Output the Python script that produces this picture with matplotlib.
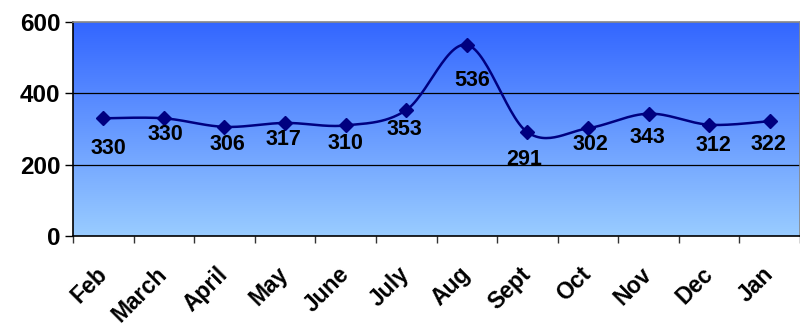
import matplotlib
matplotlib.use("Agg")
import matplotlib.pyplot as plt
import numpy as np
from matplotlib.colors import LinearSegmentedColormap

plt.rcParams["font.family"] = ["Liberation Sans", "DejaVu Sans"]
plt.rcParams["font.weight"] = "bold"

MONTHS = ["Feb", "March", "April", "May", "June", "July",
          "Aug", "Sept", "Oct", "Nov", "Dec", "Jan"]
VALUES = [330, 330, 306, 317, 310, 353, 536, 291, 302, 343, 312, 322]
Y_TICKS = [0, 200, 400, 600]

# label offsets from each marker (points), as placed in the source chart
LABEL_DX = [4, 1, 2, -1, 0, -1, 4, -2, 2, -1, 3, -1]
LABEL_DY = [-22, -12, -13, -12, -13, -14, -26, -20, -12, -17, -15, -17]


def smooth(x, y, n=30):
    # Catmull-Rom spline through the points (Excel style smoothed line)
    x = np.asarray(x, float)
    y = np.asarray(y, float)
    px = np.concatenate([[x[0]], x, [x[-1]]])
    py = np.concatenate([[y[0]], y, [y[-1]]])
    xs, ys = [], []
    t = np.linspace(0, 1, n)
    for i in range(1, len(px) - 2):
        for p, out in ((px, xs), (py, ys)):
            p0, p1, p2, p3 = p[i - 1], p[i], p[i + 1], p[i + 2]
            out.extend(0.5 * ((2 * p1) + (-p0 + p2) * t
                              + (2 * p0 - 5 * p1 + 4 * p2 - p3) * t ** 2
                              + (-p0 + 3 * p1 - 3 * p2 + p3) * t ** 3))
    return np.array(xs), np.array(ys)


fig = plt.figure(figsize=(8, 3.36), dpi=100)
ax = fig.add_axes([73 / 800, 1 - 236 / 336, 727 / 800, 214 / 336])

cmap = LinearSegmentedColormap.from_list("bg", ["#99CCFF", "#3366FF"])
grad = np.linspace(0, 1, 256).reshape(-1, 1)
ax.imshow(grad, cmap=cmap, origin="lower", aspect="auto",
          extent=[0, 1, 0, 1], transform=ax.transAxes, zorder=0)

xpos = np.arange(len(MONTHS))
for v in Y_TICKS[1:-1]:
    ax.axhline(v, color="black", lw=0.9, zorder=1)

sx, sy = smooth(xpos, VALUES)
ax.plot(sx, sy, color="#000080", lw=1.8, zorder=3)
ax.plot(xpos, VALUES, ls="none", marker="D", ms=7.5, color="#000080", zorder=4)

for i, v in enumerate(VALUES):
    ax.annotate(str(v), (xpos[i], v), xytext=(LABEL_DX[i], LABEL_DY[i]),
                textcoords="offset points", ha="center", va="center",
                fontsize=15.5, fontweight="bold", color="black", zorder=5)

ax.set_xlim(-0.5, len(MONTHS) - 0.5)
ax.set_ylim(0, 600)
ax.set_yticks(Y_TICKS)
ax.set_yticklabels([str(t) for t in Y_TICKS], fontsize=17.5, fontweight="bold")
ax.tick_params(axis="y", length=6, width=1, pad=3, color="black")

ax.set_xticks(np.arange(len(MONTHS) + 1) - 0.5)
ax.set_xticklabels([])
ax.tick_params(axis="x", which="major", length=5, width=1, color="#333333")
ax.set_xticks(xpos, minor=True)
ax.set_xticklabels(MONTHS, minor=True, rotation=45, ha="right",
                   va="center", rotation_mode="anchor",
                   fontsize=16.5, fontweight="bold")
ax.tick_params(axis="x", which="minor", length=0, pad=25)

for side in ("left", "bottom"):
    ax.spines[side].set_color("black")
    ax.spines[side].set_linewidth(1.2)
for side in ("top", "right"):
    ax.spines[side].set_color("#888888")
    ax.spines[side].set_linewidth(1.2)

fig.savefig("out.png", dpi=100)
